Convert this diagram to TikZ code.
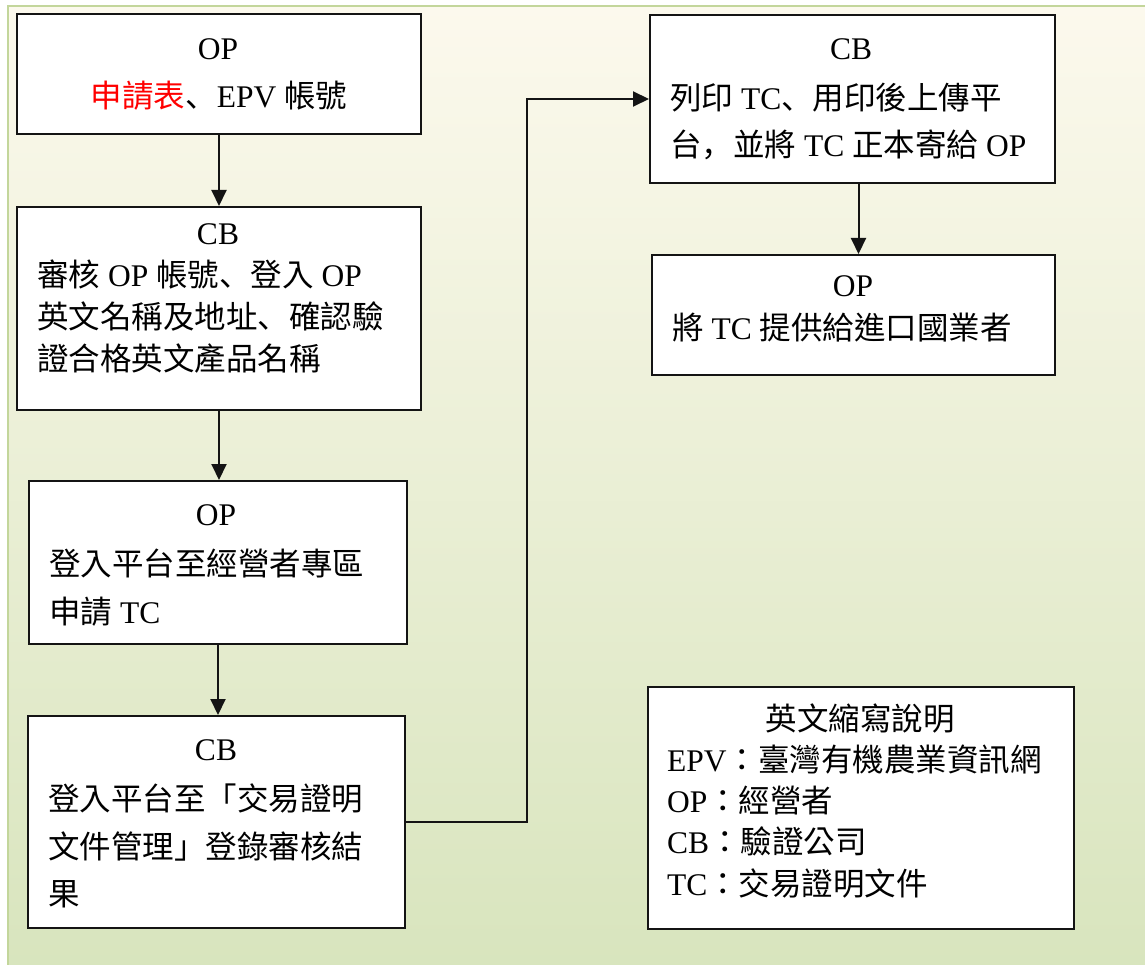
\documentclass[tikz,border=0pt]{standalone}
\usepackage{fontspec}
\setmainfont{Liberation Serif}
\newfontfamily\cjk{Noto Sans CJK TC}
\newfontfamily\cjkp{Noto Sans CJK SC}
\newcommand\zhc[1]{{\cjk #1}}
\newcommand\zhp[1]{{\cjkp #1}}
\usetikzlibrary{arrows.meta}
\definecolor{bgtop}{HTML}{FCF9ED}
\definecolor{bgbot}{HTML}{D7E4BC}
\definecolor{bgline}{HTML}{C3D69B}
\definecolor{boxline}{HTML}{141414}
\tikzset{
  box/.style={draw=boxline, fill=white, line width=2pt, rectangle, inner sep=0pt, anchor=north west},
  txt/.style={inner sep=0pt, font=\fontsize{31.5}{38}\selectfont, text=black},
  ctr/.style={txt, anchor=base},
  lft/.style={txt, anchor=base west},
  flow/.style={draw=boxline, line width=2pt, -{Triangle[length=16pt,width=15pt]}},
}
\begin{document}
\begin{tikzpicture}[x=1pt,y=-1pt]
\useasboundingbox (0,0) rectangle (1145,965);
\begin{scope}
  \clip (0,0) rectangle (1145,965);
  \path[top color=bgtop, bottom color=bgbot, draw=bgline, line width=2.5pt] (8,6) rectangle (1175,995);
\end{scope}

% boxes
\node[box, minimum width=404pt, minimum height=120pt] (b1) at (16,13) {};
\node[box, minimum width=404pt, minimum height=203pt] (b2) at (16,206) {};
\node[box, minimum width=378pt, minimum height=163pt] (b3) at (28,480) {};
\node[box, minimum width=377pt, minimum height=212pt] (b4) at (27,715) {};
\node[box, minimum width=405pt, minimum height=168pt] (b5) at (649,14) {};
\node[box, minimum width=403pt, minimum height=120pt] (b6) at (651,254) {};
\node[box, minimum width=426pt, minimum height=242pt] (lg) at (647,686) {};

% box 1
\node[ctr] (t1a) at (218,60) {OP};
\node[ctr] (t1b) at (219,108) {\textcolor{red}{\zhc{申請表}}\zhp{、}EPV \zhc{帳號}};
% box 2
\node[ctr] (t2a) at (218,245) {CB};
\node[lft] (t2b) at (37,287) {\zhc{審核} OP \zhc{帳號}\zhp{、}\zhc{登入} OP};
\node[lft] (t2c) at (37,328) {\zhc{英文名稱及地址}\zhp{、}\zhc{確認驗}};
\node[lft] (t2d) at (37,370) {\zhc{證合格英文產品名稱}};
% box 3
\node[ctr] (t3a) at (216,525) {OP};
\node[lft] (t3b) at (49,575) {\zhc{登入平台至經營者專區}};
\node[lft] (t3c) at (49,623) {\zhc{申請} TC};
% box 4
\node[ctr] (t4a) at (216,760) {CB};
\node[lft] (t4b) at (48,810) {\zhc{登入平台至「交易證明}};
\node[lft] (t4c) at (48,858) {\zhc{文件管理」登錄審核結}};
\node[lft] (t4d) at (48,905) {\zhc{果}};
% box 5
\node[ctr] (t5a) at (851,60) {CB};
\node[lft] (t5b) at (670,110) {\zhc{列印} TC\zhp{、}\zhc{用印後上傳平}};
\node[lft] (t5c) at (670,157) {\zhc{台}\zhp{，}\zhc{並將} TC \zhc{正本寄給} OP};
% box 6
\node[ctr] (t6a) at (853,297) {OP};
\node[lft] (t6b) at (672,340) {\zhc{將} TC \zhc{提供給進口國業者}};
% legend
\node[ctr] (tla) at (860,730) {\zhc{英文縮寫說明}};
\node[lft] (tlb) at (667,771) {EPV\zhc{：臺灣有機農業資訊網}};
\node[lft] (tlc) at (667,812) {OP\zhc{：經營者}};
\node[lft] (tld) at (667,853) {CB\zhc{：驗證公司}};
\node[lft] (tle) at (667,895) {TC\zhc{：交易證明文件}};

% connectors
\coordinate (k) at (527,0);
\draw[flow] (b1.south) -- (b1.south |- b2.north);
\draw[flow] (b2.south) -- (b2.south |- b3.north);
\draw[flow] (b3.south) -- (b3.south |- b4.north);
\draw[flow] (b4.east) -- (b4.east -| k) -- (k |- b5.west) -- (b5.west);
\draw[flow] ([xshift=6pt]b5.south) -- ([xshift=6pt]b5.south |- b6.north);
\end{tikzpicture}
\end{document}
